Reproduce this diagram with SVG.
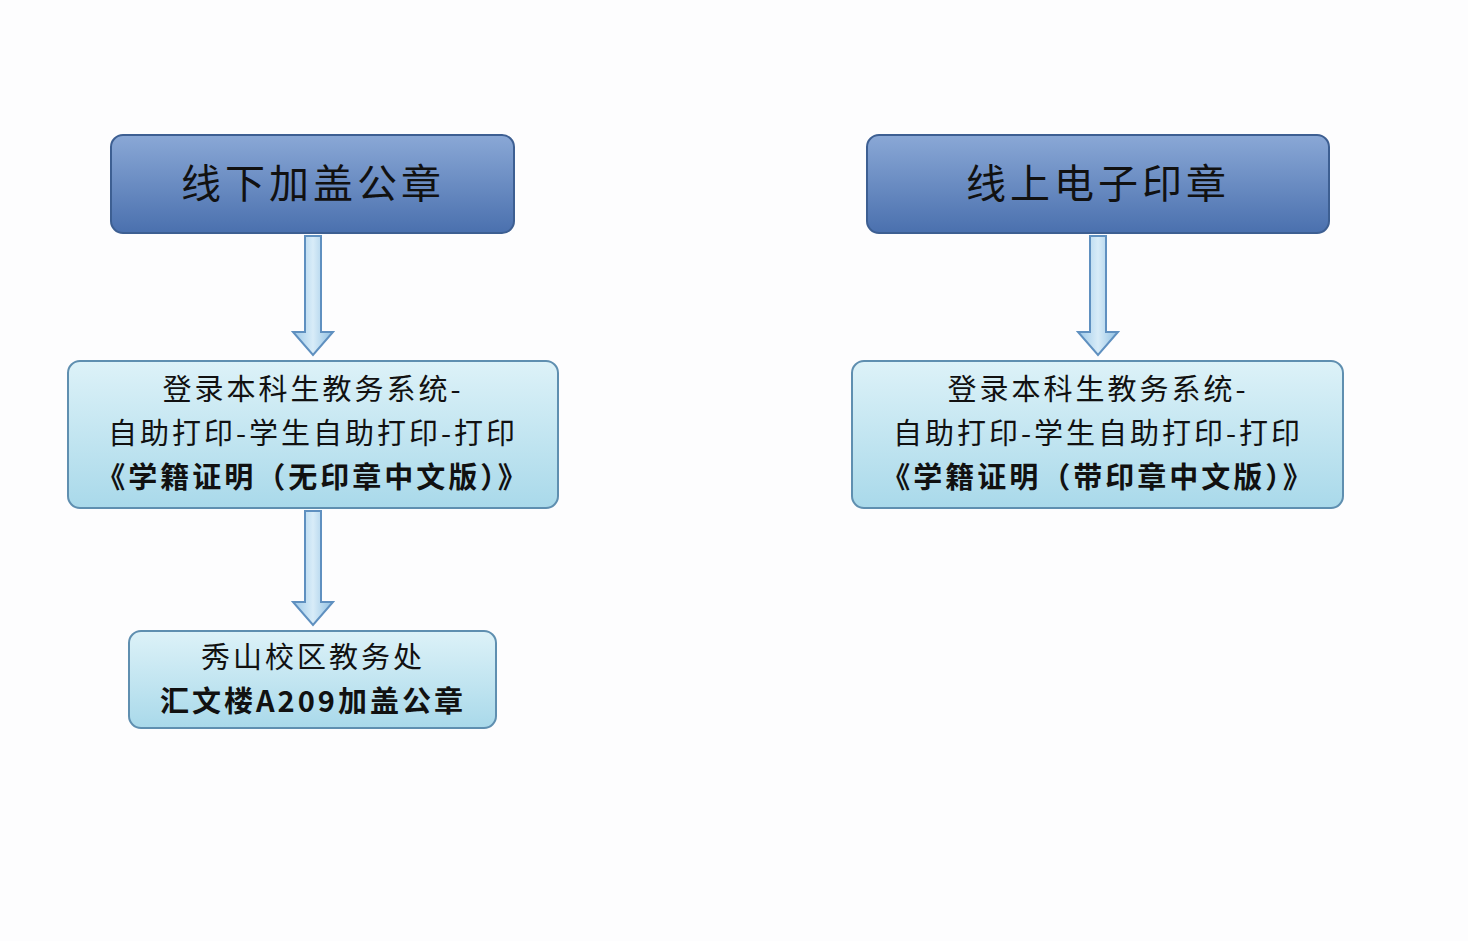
<svg xmlns="http://www.w3.org/2000/svg" width="1468" height="941" viewBox="0 0 1468 941">
<defs>
<linearGradient id="dark" x1="0" y1="0" x2="0" y2="1"><stop offset="0" stop-color="#8aa8d6"/><stop offset="1" stop-color="#4a70ae"/></linearGradient>
<linearGradient id="light" x1="0" y1="0" x2="0" y2="1"><stop offset="0" stop-color="#ddf2f8"/><stop offset="1" stop-color="#a9d9ea"/></linearGradient>
<linearGradient id="arr" x1="0" y1="0" x2="1" y2="0"><stop offset="0" stop-color="#9cc8e8"/><stop offset="0.5" stop-color="#d8ecf8"/><stop offset="1" stop-color="#8ebfe2"/></linearGradient>
</defs>
<style>
.d{fill:url(#dark);stroke:#3d5f92;stroke-width:2}
.l{fill:url(#light);stroke:#5f8fb0;stroke-width:2}
.a{fill:url(#arr);stroke:#5f90c0;stroke-width:2}
.t{font-family:"Noto Sans CJK SC","Liberation Sans",sans-serif;fill:#111;text-anchor:middle}
.big{font-size:40px;letter-spacing:4px}
.mid{font-size:29px;letter-spacing:3px}
</style>
<rect width="1468" height="941" fill="#fdfdfe"/>
<g id="connectors">
<path class="a" d="M305 236 H321 V332 H333 L313 355 L293 332 H305 Z"/>
<path class="a" d="M305 511 H321 V602 H333 L313 625 L293 602 H305 Z"/>
<path class="a" d="M1090 236 H1106 V332 H1118 L1098 355 L1078 332 H1090 Z"/>
</g>
<g id="offline"><rect class="d" x="111" y="135" width="403" height="98" rx="12"/><text class="t big" x="313" y="198">线下加盖公章</text></g>
<g id="online"><rect class="d" x="867" y="135" width="462" height="98" rx="12"/><text class="t big" x="1098" y="198">线上电子印章</text></g>
<g id="printA"><rect class="l" x="68" y="361" width="490" height="147" rx="12"/>
<text class="t mid" x="313" y="400">登录本科生教务系统-</text>
<text class="t mid" x="313" y="444">自助打印-学生自助打印-打印</text>
<text class="t mid" x="313" y="488" font-weight="bold">《学籍证明（无印章中文版）》</text></g>
<g id="printB"><rect class="l" x="852" y="361" width="491" height="147" rx="12"/>
<text class="t mid" x="1098" y="400">登录本科生教务系统-</text>
<text class="t mid" x="1098" y="444">自助打印-学生自助打印-打印</text>
<text class="t mid" x="1098" y="488" font-weight="bold">《学籍证明（带印章中文版）》</text></g>
<g id="office"><rect class="l" x="129" y="631" width="367" height="97" rx="12"/>
<text class="t mid" x="313" y="668">秀山校区教务处</text>
<text class="t mid" x="313" y="712" font-weight="bold">汇文楼A209加盖公章</text></g>
</svg>
